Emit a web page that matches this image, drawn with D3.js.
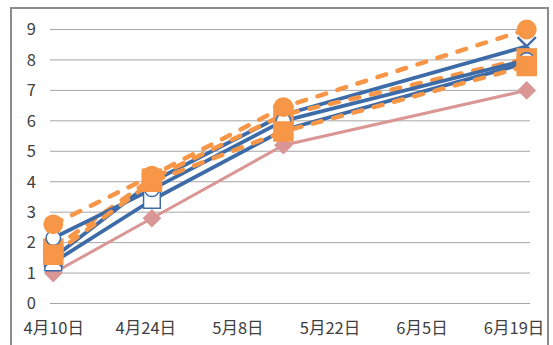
<!DOCTYPE html>
<html>
<head>
<meta charset="utf-8">
<script src="https://cdn.jsdelivr.net/npm/d3@7"></script>
<style>
  html, body { margin: 0; padding: 0; background: #fff; }
  svg text { font-family: "Noto Sans CJK JP", "Noto Sans", sans-serif; fill: #404040; }
</style>
</head>
<body>
<div id="chart"></div>
<script>
// point dates and axis labels
const pointDates = ['2019-04-10', '2019-04-25', '2019-05-15', '2019-06-21'];
const tickDates = ['2019-04-10', '2019-04-24', '2019-05-08', '2019-05-22', '2019-06-05', '2019-06-19'];
const yTicks = [0, 1, 2, 3, 4, 5, 6, 7, 8, 9];

// series values
const pinkDiamond = [1.0, 2.8, 5.2, 7.0];
const blueSquare = [1.35, 3.4, 5.7, 7.9];
const blueCross = [1.5, 4.0, 6.2, 8.45];
const orangeSquareB = [1.8, 4.1, 6.2, 8.05];
const blueCircle = [2.15, 3.75, 6.0, 8.0];
const orangeSquareA = [1.6, 4.0, 5.65, 7.8];
const orangeCircle = [2.6, 4.2, 6.45, 9.0];

const blue = '#3d6ba8';
const orange = '#f79646';
const pink = '#d99694';

// draw order = list order
const series = [
  { values: pinkDiamond, color: pink, width: 3, dash: null, marker: 'diamond', fill: pink },
  { values: blueSquare, color: blue, width: 3.8, dash: null, marker: 'square', fill: '#fff' },
  { values: blueCross, color: blue, width: 3.8, dash: null, marker: 'cross', fill: 'none' },
  { values: orangeSquareB, color: orange, width: 4.5, dash: '9 12', marker: 'bigSquare', fill: orange },
  { values: blueCircle, color: blue, width: 3.8, dash: null, marker: 'circle', fill: '#fff' },
  { values: orangeSquareA, color: orange, width: 4.5, dash: '9 12', marker: 'bigSquare', fill: orange },
  { values: orangeCircle, color: orange, width: 4.5, dash: '9 12', marker: 'bigCircle', fill: orange }
];

const width = 553, height = 345;
const parseDate = d3.utcParse('%Y-%m-%d');
const halfDay = 12 * 3600 * 1000;

const svg = d3.select('#chart').append('svg')
  .attr('width', width)
  .attr('height', height);

// chart frame
svg.append('rect')
  .attr('x', 11).attr('y', 8)
  .attr('width', 537).attr('height', 360)
  .attr('fill', 'none')
  .attr('stroke', '#8c8c8c')
  .attr('stroke-width', 2);

const first = parseDate(pointDates[0]);
const last = parseDate(pointDates[pointDates.length - 1]);

const x = d3.scaleUtc()
  .domain([new Date(+first - halfDay), new Date(+last + halfDay)])
  .range([50, 530]);

const y = d3.scaleLinear()
  .domain([0, 9])
  .range([303.5, 29.5]);

// gridlines
svg.append('g')
  .attr('class', 'grid')
  .selectAll('line')
  .data(yTicks)
  .join('line')
  .attr('x1', 50).attr('x2', 530)
  .attr('y1', d => y(d)).attr('y2', d => y(d))
  .attr('stroke', '#a6a6a6')
  .attr('stroke-width', 1);

const yAxis = d3.axisLeft(y)
  .tickValues(yTicks)
  .tickSize(0)
  .tickPadding(0)
  .tickFormat(d3.format('d'));

svg.append('g')
  .attr('class', 'y axis')
  .attr('transform', 'translate(36,0)')
  .call(yAxis)
  .call(g => g.select('.domain').remove())
  .selectAll('text')
  .style('font-size', '16.5px');

const xAxis = d3.axisBottom(x)
  .tickValues(tickDates.map(parseDate))
  .tickSize(0)
  .tickPadding(0)
  .tickFormat(d => (d.getUTCMonth() + 1) + '月' + d.getUTCDate() + '日');

svg.append('g')
  .attr('class', 'x axis')
  .attr('transform', 'translate(0,322)')
  .call(xAxis)
  .call(g => g.select('.domain').remove())
  .selectAll('text')
  .style('font-size', '16.5px');

const line = d3.line()
  .x(d => x(d.date))
  .y(d => y(d.value));

const toPoints = s => s.values.map((v, i) => ({ date: parseDate(pointDates[i]), value: v }));

const plot = svg.append('g').attr('class', 'series');

series.forEach(s => {
  plot.append('path')
    .attr('d', line(toPoints(s)))
    .attr('fill', 'none')
    .attr('stroke', s.color)
    .attr('stroke-width', s.width)
    .attr('stroke-linecap', s.dash ? 'round' : 'butt')
    .attr('stroke-linejoin', 'round')
    .attr('stroke-dasharray', s.dash);
});

const markerPath = {
  circle: d3.symbol(d3.symbolCircle, 165),
  bigCircle: d3.symbol(d3.symbolCircle, 310),
  square: d3.symbol(d3.symbolSquare, 280),
  bigSquare: d3.symbol(d3.symbolSquare, 420),
  diamond: d3.symbol(d3.symbolSquare, 175),
  cross: d3.symbol(d3.symbolX, 220)
};

series.forEach(s => {
  plot.append('g')
    .selectAll('path')
    .data(toPoints(s))
    .join('path')
    .attr('d', markerPath[s.marker])
    .attr('transform', d => 'translate(' + x(d.date) + ',' + y(d.value) + ')' + (s.marker === 'diamond' ? ' rotate(45)' : ''))
    .attr('fill', s.fill)
    .attr('stroke', s.marker === 'diamond' || s.fill === orange ? 'none' : s.color)
    .attr('stroke-width', s.marker === 'cross' ? 2.2 : 1.5);
});
</script>
</body>
</html>
